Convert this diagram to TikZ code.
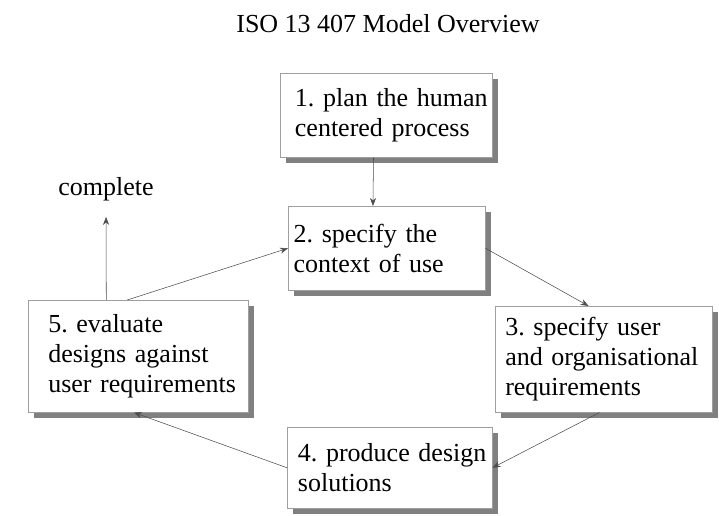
\documentclass[tikz,border=0pt]{standalone}
\usepackage{fontspec}
\setmainfont{Liberation Serif}
\usetikzlibrary{arrows.meta,shadows,calc}
\newcommand{\boxfont}{\fontsize{19.5}{22.5}\selectfont}
\newcommand{\padtext}[2]{{\leftskip=#1 #2\par}}
\tikzset{
  box/.style={rectangle, draw=gray!75, fill=white, anchor=north west,
    inner xsep=0pt, inner ysep=0pt, align=left, font=\boxfont,
    drop shadow={shadow xshift=4.5pt, shadow yshift=-4.5pt, fill=black!50, opacity=1}},
  flow/.style={draw=black!70, -{Stealth[length=6pt,width=4.5pt]}}
}
\frenchspacing
\begin{document}
\begin{tikzpicture}[x=0.75pt,y=-0.75pt]
    \useasboundingbox (0,0) rectangle (719,516);
    % Titulo
    \node[font=\boxfont, anchor=base] (title) at (388,33) {ISO 13 407 Model Overview};
    % Caixas do ciclo
    \node[box, text width=159pt, minimum height=63pt] (plan) at (280,73)
        {\padtext{11pt}{1. plan the human\\ centered process}};
    \node[box, text width=147.75pt, minimum height=63pt] (context) at (288,206)
        {\padtext{4pt}{2. specify the\\ context of use}};
    \node[box, text width=162.75pt, minimum height=79.5pt] (req) at (495,306)
        {\padtext{7.5pt}{3. specify user\\ and organisational\\ requirements}};
    \node[box, text width=153.75pt, minimum height=60.75pt] (design) at (287,427)
        {\padtext{8pt}{4. produce design\\ solutions}};
    \node[box, text width=165pt, minimum height=84pt] (eval) at (28,300)
        {\padtext{15pt}{5. evaluate\\ designs against\\ user requirements}};
    % Saida
    \node[font=\boxfont, anchor=base] (complete) at (106,196) {complete};
    % Setas
    \draw[flow] ($(plan.south west)!.44!(plan.south east)$) -- ($(context.north west)!.43!(context.north east)$);
    \draw[flow] (context.east) -- ($(req.north west)!.43!(req.north east)$);
    \draw[flow] ($(req.south west)!.48!(req.south east)$) -- (design.east);
    \draw[flow] (design.west) -- ($(eval.south west)!.48!(eval.south east)$);
    \draw[flow] ($(eval.north west)!.45!(eval.north east)$) -- (context.west);
    \draw[flow, shorten >=8pt] ($(eval.north west)!.355!(eval.north east)$) -- (complete.south);
\end{tikzpicture}
\end{document}
